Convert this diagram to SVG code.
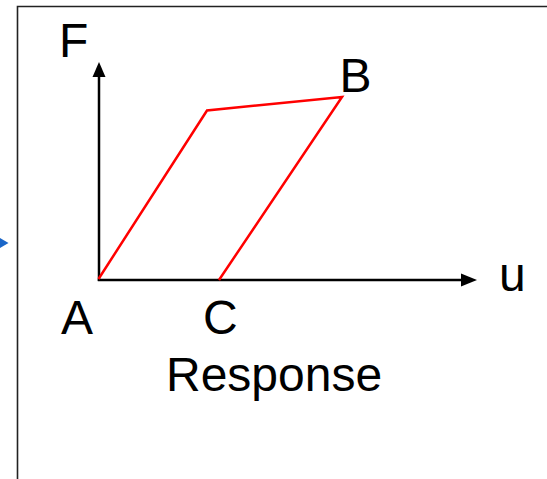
<svg xmlns="http://www.w3.org/2000/svg" width="547" height="479" viewBox="0 0 547 479">
<style>
.lbl{font-family:"Liberation Sans",Arial,sans-serif;font-size:48px;fill:#000}
.ax{stroke:#000;stroke-width:2.5;fill:none}
.curve{stroke:#ff0000;stroke-width:2.5;fill:none;stroke-linejoin:miter}
</style>
<rect width="547" height="479" fill="#fff"/>
<g id="frame">
<path d="M17.5,480 V6.5 H548" fill="none" stroke="#222" stroke-width="1.6"/>
</g>
<g id="incoming">
<polygon points="0,238 8.5,243 0,248" fill="#1a66c8"/>
</g>
<g id="connectors">
<line class="ax" x1="99" y1="281" x2="99" y2="75"/>
<polygon points="99,62 92.5,77 105.5,77" fill="#000"/>
<line class="ax" x1="97.8" y1="280" x2="463" y2="280"/>
<polygon points="477,280 461,273.5 461,286.5" fill="#000"/>
<polyline class="curve" points="98.5,279 207,110.5 342,97 219,280"/>
</g>
<g id="labels">
<text class="lbl" x="59" y="57">F</text>
<text class="lbl" x="339.5" y="92">B</text>
<text class="lbl" x="499" y="291">u</text>
<text class="lbl" x="61" y="334">A</text>
<text class="lbl" x="203" y="334">C</text>
<text class="lbl" x="166" y="391">Response</text>
</g>
</svg>
